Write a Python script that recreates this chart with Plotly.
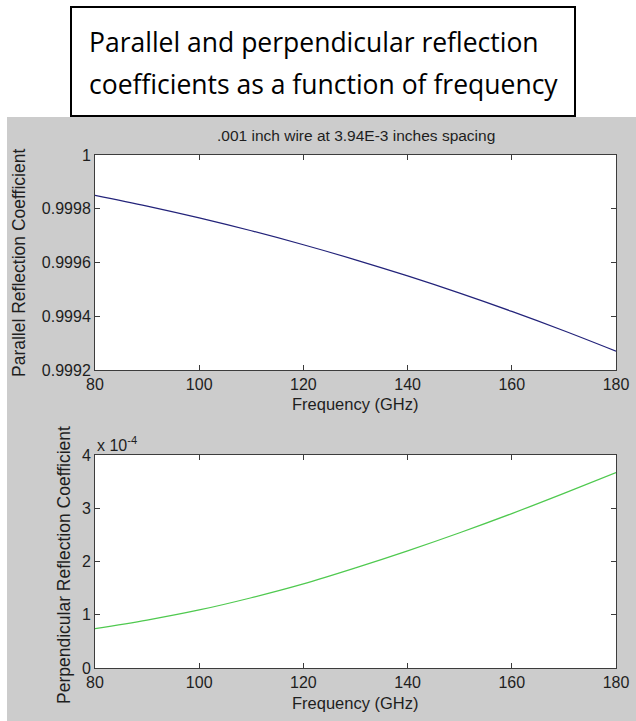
import plotly.graph_objects as go

# Frequency sweep (GHz)
freq_ghz = [80, 90, 100, 110, 120, 130, 140, 150, 160, 170, 180]

# Reflection coefficients for .001 inch wire at 3.94E-3 inch spacing
parallel_coef = [0.99985, 0.99981, 0.999766, 0.999718, 0.999666, 0.99961,
                 0.99955, 0.999486, 0.999418, 0.999346, 0.99927]
perpendicular_coef = [0.74e-4, 0.90e-4, 1.09e-4, 1.32e-4, 1.58e-4, 1.88e-4,
                      2.20e-4, 2.54e-4, 2.90e-4, 3.28e-4, 3.67e-4]

x_ticks = [80, 100, 120, 140, 160, 180]
par_ticks = [0.9992, 0.9994, 0.9996, 0.9998, 1.0]
par_ticktext = ["0.9992", "0.9994", "0.9996", "0.9998", "1"]
perp_ticks = [0, 1e-4, 2e-4, 3e-4, 4e-4]
perp_ticktext = ["0", "1", "2", "3", "4"]

W, H = 636, 721
FONT = "Liberation Sans, Arial, sans-serif"
TXT = "#1e1e1e"
AX = "#3c3c3c"


def px(x):
    return x / W


def py(y):
    return 1 - y / H


left, right = 95, 616
top1, bot1 = 155, 370
top2, bot2 = 455, 668

fig = go.Figure()
fig.add_trace(go.Scatter(x=freq_ghz, y=parallel_coef, mode="lines",
                         line=dict(color="#23237a", width=1.2, shape="spline"),
                         xaxis="x", yaxis="y", showlegend=False))
fig.add_trace(go.Scatter(x=freq_ghz, y=perpendicular_coef, mode="lines",
                         line=dict(color="#4fc94f", width=1.2, shape="spline"),
                         xaxis="x2", yaxis="y2", showlegend=False))

axis_common = dict(showline=True, linecolor=AX, linewidth=1, mirror="ticks",
                   ticks="inside", ticklen=5, tickcolor=AX, showgrid=False,
                   zeroline=False, automargin=False,
                   tickfont=dict(family=FONT, size=16, color=TXT))

fig.update_layout(
    width=W, height=H,
    margin=dict(l=0, r=0, t=0, b=0, pad=0, autoexpand=False),
    paper_bgcolor="white",
    plot_bgcolor="white",
    xaxis=dict(domain=[px(left), px(right)], range=[80, 180], tickvals=x_ticks,
               anchor="y", **axis_common),
    yaxis=dict(domain=[py(bot1), py(top1)], range=[0.9992, 1.0], tickvals=par_ticks,
               ticktext=par_ticktext, anchor="x", **axis_common),
    xaxis2=dict(domain=[px(left), px(right)], range=[80, 180], tickvals=x_ticks,
                anchor="y2", **axis_common),
    yaxis2=dict(domain=[py(bot2), py(top2)], range=[0, 4e-4], tickvals=perp_ticks,
                ticktext=perp_ticktext, anchor="x2", **axis_common),
)

# Gray figure window, with white panels under each pair of axes
fig.add_shape(type="rect", xref="paper", yref="paper", layer="below",
              x0=px(7), x1=1, y0=0, y1=py(117),
              fillcolor="#cccccc", line=dict(width=0))
for (t, b) in [(top1, bot1), (top2, bot2)]:
    fig.add_shape(type="rect", xref="paper", yref="paper", layer="below",
                  x0=px(left), x1=px(right), y0=py(b), y1=py(t),
                  fillcolor="white", line=dict(width=0))
# Framed heading box
fig.add_shape(type="rect", xref="paper", yref="paper",
              x0=px(71), x1=px(575), y0=py(116), y1=py(7),
              fillcolor="white", line=dict(color="black", width=2))

HEAD_FONT = dict(family="Open Sans, Lato, sans-serif", size=26.5, color="black")
ann = []
ann.append(dict(text="Parallel and perpendicular reflection", x=px(87), y=py(42),
                xanchor="left", yanchor="middle", font=HEAD_FONT))
ann.append(dict(text="coefficients as a function of frequency", x=px(87), y=py(84),
                xanchor="left", yanchor="middle", font=HEAD_FONT))
ann.append(dict(text=".001 inch wire at 3.94E-3 inches spacing", x=px((left + right) / 2),
                y=py(135), xanchor="center", yanchor="middle",
                font=dict(family=FONT, size=15.5, color=TXT)))
ann.append(dict(text="Frequency (GHz)", x=px((left + right) / 2), y=py(404),
                xanchor="center", yanchor="middle",
                font=dict(family=FONT, size=16.5, color=TXT)))
ann.append(dict(text="Frequency (GHz)", x=px((left + right) / 2), y=py(703),
                xanchor="center", yanchor="middle",
                font=dict(family=FONT, size=16.5, color=TXT)))
ann.append(dict(text="Parallel Reflection Coefficient", x=px(19), y=py(263),
                xanchor="center", yanchor="middle", textangle=-90,
                font=dict(family=FONT, size=17.5, color=TXT)))
ann.append(dict(text="Perpendicular Reflection Coefficient", x=px(64), y=py(565),
                xanchor="center", yanchor="middle", textangle=-90,
                font=dict(family=FONT, size=17.5, color=TXT)))
ann.append(dict(text="x 10<sup>-4</sup>", x=px(95), y=py(444),
                xanchor="left", yanchor="middle",
                font=dict(family=FONT, size=16, color=TXT)))
for a in ann:
    a.update(xref="paper", yref="paper", showarrow=False)
fig.update_layout(annotations=ann)

# Page without the browser's default body margin so the figure sits flush
page_js = ("document.body.style.margin='0';"
           "document.body.style.overflow='hidden';"
           "document.documentElement.style.overflow='hidden';")
fig.write_html("out.html", post_script=page_js)
